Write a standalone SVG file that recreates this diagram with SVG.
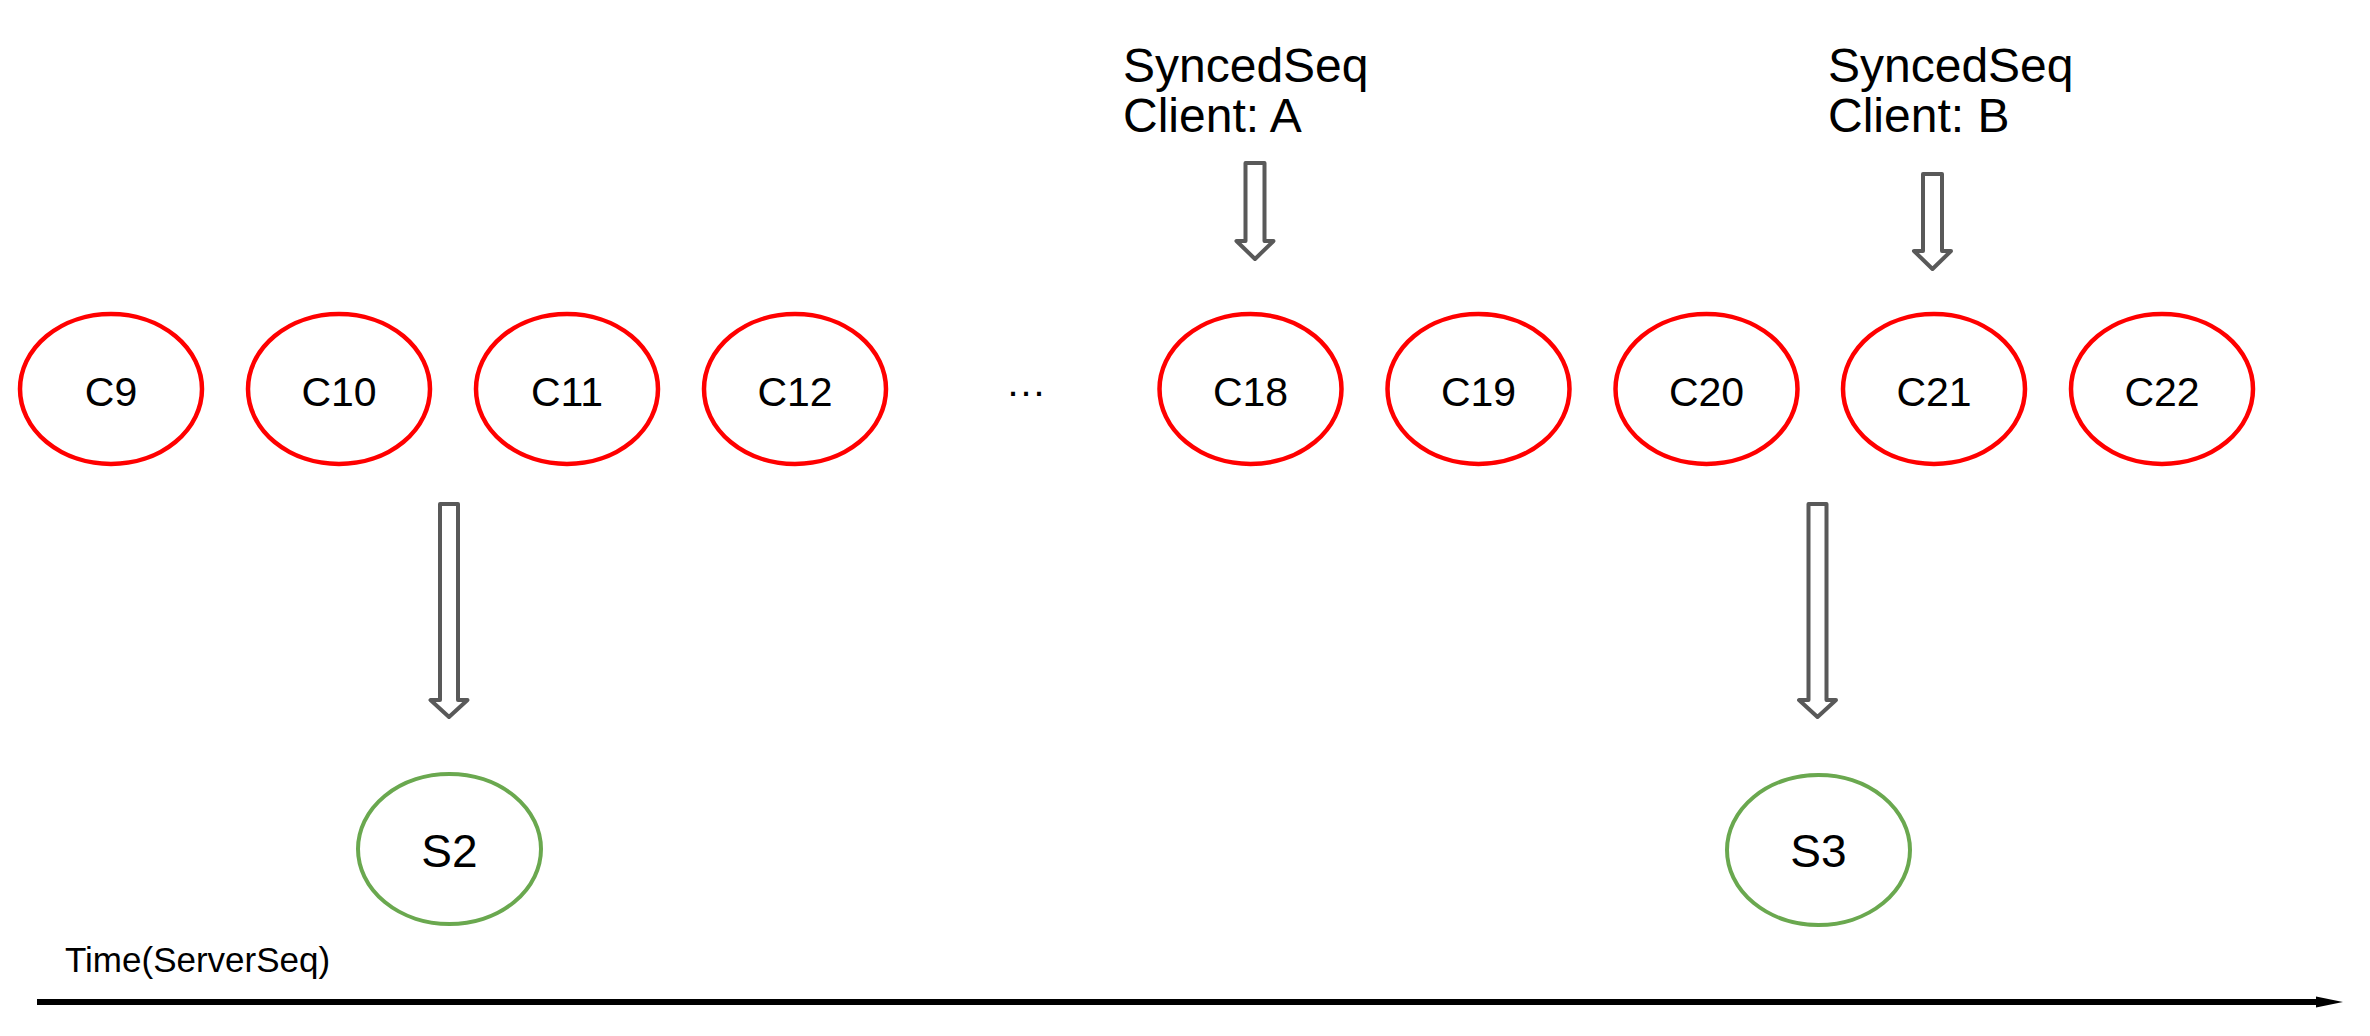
<svg xmlns="http://www.w3.org/2000/svg" width="2370" height="1036" viewBox="0 0 2370 1036">
<style>
text { font-family: "Liberation Sans", Arial, sans-serif; fill: #000; }
.c { fill: #fff; stroke: #ff0000; stroke-width: 4.5; }
.s { fill: #fff; stroke: #6aa84f; stroke-width: 4; }
.cl { font-size: 41px; text-anchor: middle; }
.sl { font-size: 46px; text-anchor: middle; }
.note { font-size: 48px; }
.blk { fill: #fff; stroke: #595959; stroke-width: 4; stroke-linejoin: round; }
</style>
<rect width="2370" height="1036" fill="#fff"/>
<g id="C9"><ellipse class="c" cx="111" cy="389" rx="91" ry="75"/><text class="cl" x="111" y="406">C9</text></g>
<g id="C10"><ellipse class="c" cx="339" cy="389" rx="91" ry="75"/><text class="cl" x="339" y="406">C10</text></g>
<g id="C11"><ellipse class="c" cx="567" cy="389" rx="91" ry="75"/><text class="cl" x="567" y="406">C11</text></g>
<g id="C12"><ellipse class="c" cx="795" cy="389" rx="91" ry="75"/><text class="cl" x="795" y="406">C12</text></g>
<g id="ellipsis"><text class="cl" x="1026" y="396">…</text></g>
<g id="C18"><ellipse class="c" cx="1250.5" cy="389" rx="91" ry="75"/><text class="cl" x="1250.5" y="406">C18</text></g>
<g id="C19"><ellipse class="c" cx="1478.5" cy="389" rx="91" ry="75"/><text class="cl" x="1478.5" y="406">C19</text></g>
<g id="C20"><ellipse class="c" cx="1706.5" cy="389" rx="91" ry="75"/><text class="cl" x="1706.5" y="406">C20</text></g>
<g id="C21"><ellipse class="c" cx="1934" cy="389" rx="91" ry="75"/><text class="cl" x="1934" y="406">C21</text></g>
<g id="C22"><ellipse class="c" cx="2162" cy="389" rx="91" ry="75"/><text class="cl" x="2162" y="406">C22</text></g>
<g id="S2"><ellipse class="s" cx="449.5" cy="849" rx="91.5" ry="75"/><text class="sl" x="449.5" y="867">S2</text></g>
<g id="S3"><ellipse class="s" cx="1818.5" cy="850" rx="91.5" ry="75"/><text class="sl" x="1818.5" y="867">S3</text></g>
<g id="labelA"><text class="note" x="1123" y="82">SyncedSeq</text><text class="note" x="1123" y="132">Client: A</text></g>
<g id="labelB"><text class="note" x="1828" y="82">SyncedSeq</text><text class="note" x="1828" y="132">Client: B</text></g>
<g id="timeLabel"><text x="65" y="972" font-size="35">Time(ServerSeq)</text></g>
<g id="connectors">
<path class="blk" d="M1245.5,163 H1264.5 V241 H1273.5 L1255,259 L1236.5,241 H1245.5 Z"/>
<path class="blk" d="M1923,174 H1942 V251 H1951 L1932.5,269 L1914,251 H1923 Z"/>
<path class="blk" d="M440,504 H458 V700 H467.5 L449,717 L430.5,700 H440 Z"/>
<path class="blk" d="M1808.5,504 H1826.5 V700 H1836 L1817.5,717 L1799,700 H1808.5 Z"/>
<line x1="37" y1="1002" x2="2320" y2="1002" stroke="#000" stroke-width="6"/>
<polygon points="2316,996.5 2343,1002 2316,1007.5" fill="#000"/>
</g>
</svg>
